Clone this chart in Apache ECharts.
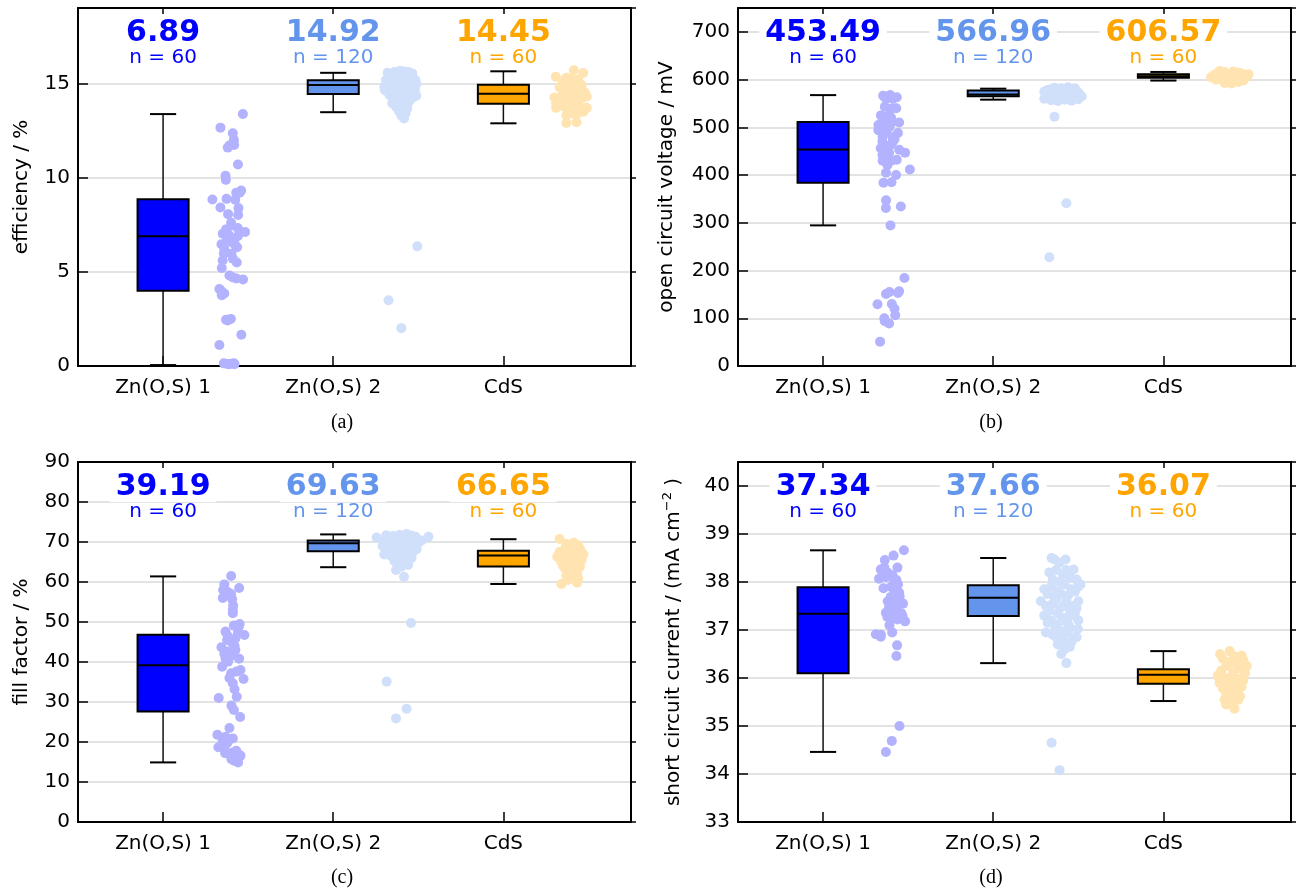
<!DOCTYPE html>
<html lang="en">
<head>
<meta charset="UTF-8">
<script src="https://cdn.jsdelivr.net/npm/echarts@6/dist/echarts.min.js"></script>
<style>
  body { margin: 0; background: #fff; }
</style>
</head>
<body>
<div id="main" style="width:1303px;height:889px;"></div>
<script type="text/javascript">
// categories and colours
const categories = ['Zn(O,S) 1', 'Zn(O,S) 2', 'CdS'];
const nCounts = [60, 120, 60];
const boxColors = ['#0000ff', '#6495ed', '#ffa500'];
const dotColors = ['#b2b2ff', '#d0dffa', '#ffe4b2'];

// box stats: [low whisker, q1, median, q3, high whisker]
const effBox = [[0.05, 3.99, 6.89, 8.85, 13.37], [13.47, 14.44, 14.92, 15.17, 15.56], [12.88, 13.92, 14.45, 14.93, 15.64]];
const vocBox = [[294.6, 384, 453.5, 511, 567.5], [558, 565, 569, 577, 581], [598, 604, 607, 611, 616]];
const ffBox = [[14.9, 27.6, 39.19, 46.8, 61.4], [63.7, 67.7, 69.7, 70.4, 71.9], [59.5, 63.9, 66.65, 67.8, 70.7]];
const jscBox = [[34.46, 36.1, 37.34, 37.89, 38.66], [36.31, 37.29, 37.67, 37.93, 38.5], [35.52, 35.88, 36.07, 36.18, 36.56]];

// numbers printed above each box
const effLabels = ['6.89', '14.92', '14.45'];
const vocLabels = ['453.49', '566.96', '606.57'];
const ffLabels = ['39.19', '69.63', '66.65'];
const jscLabels = ['37.34', '37.66', '36.07'];

// single cells, [jitter offset from category, value]
const effZn1 = [[0.469,13.37],[0.337,12.65],[0.41,12.35],[0.416,12.0],[0.418,11.73],[0.38,11.59],[0.44,10.69],[0.367,10.1],[0.369,9.88],[0.459,9.31],[0.43,9.2],[0.29,8.84],[0.373,8.87],[0.424,8.82],[0.337,8.41],[0.443,8.38],[0.382,8.06],[0.441,8.02],[0.4,7.46],[0.439,7.32],[0.482,7.11],[0.351,7.02],[0.386,6.97],[0.376,6.7],[0.343,6.46],[0.435,6.3],[0.422,6.44],[0.357,5.96],[0.402,5.96],[0.433,5.49],[0.345,5.2],[0.39,4.8],[0.408,4.71],[0.47,4.59],[0.331,4.09],[0.345,3.76],[0.398,2.5],[0.38,2.42],[0.46,1.66],[0.331,1.11],[0.357,0.14],[0.416,0.14],[0.386,0.09],
  [0.40,7.6],[0.37,7.25],[0.42,6.75],[0.36,6.2],[0.39,6.6],[0.41,5.7],[0.35,5.6],[0.44,6.9],[0.38,0.1],[0.40,0.12],[0.37,2.45],[0.43,4.65],[0.34,4.0],[0.36,3.85],[0.45,9.2],[0.39,11.7],[0.42,0.1]];
const effZn2 = [[0.32,15.57],[0.36,15.6],[0.39,15.66],[0.41,15.64],[0.44,15.62],[0.465,15.52],[0.43,15.5],[0.35,15.45],[0.38,15.42],[0.42,15.4],[0.45,15.45],
  [0.31,15.17],[0.33,15.3],[0.37,15.25],[0.40,15.3],[0.43,15.2],[0.46,15.3],[0.484,15.17],[0.35,15.1],[0.39,15.05],[0.42,15.1],[0.45,15.0],[0.488,14.96],[0.33,15.0],[0.37,15.15],[0.41,15.0],
  [0.30,14.8],[0.304,14.64],[0.34,14.9],[0.36,14.7],[0.38,14.85],[0.40,14.6],[0.42,14.8],[0.44,14.7],[0.46,14.85],[0.48,14.65],[0.35,14.55],[0.39,14.75],[0.43,14.55],[0.47,14.5],[0.32,14.75],[0.41,14.9],
  [0.488,14.34],[0.33,14.4],[0.36,14.3],[0.38,14.45],[0.40,14.2],[0.42,14.35],[0.445,14.02],[0.46,14.4],[0.35,14.15],[0.43,14.1],[0.39,14.05],[0.37,14.0],[0.47,14.25],
  [0.347,13.93],[0.435,13.67],[0.386,13.53],[0.40,13.8],[0.42,13.9],[0.37,13.75],[0.41,13.6],
  [0.416,13.14],[0.40,13.3],[0.425,13.4],
  [0.494,6.35],[0.325,3.49],[0.40,2.01]];
const effCdS = [[0.414,15.7],[0.469,15.55],[0.308,15.35],[0.37,15.3],[0.40,15.25],[0.44,15.2],[0.35,15.05],[0.39,15.0],[0.43,14.95],[0.46,14.9],[0.33,14.8],[0.37,14.75],[0.41,14.7],[0.45,14.6],[0.48,14.5],[0.35,14.5],[0.39,14.45],[0.43,14.4],[0.30,14.25],[0.34,14.3],[0.38,14.2],[0.42,14.15],[0.46,14.2],[0.49,14.3],[0.31,13.95],[0.36,14.0],[0.40,13.95],[0.44,13.9],[0.31,13.7],[0.36,13.75],[0.41,13.65],[0.45,13.7],[0.49,13.7],[0.40,13.4],[0.43,13.35],[0.37,13.3],[0.43,12.94],[0.37,12.9],[0.47,13.5],[0.39,14.6],[0.42,14.85],[0.36,15.15]];

const vocZn1 = [[0.353,566],[0.394,567.5],[0.433,563],[0.363,543],[0.408,540],[0.388,526],[0.349,512],[0.447,510],[0.325,505],[0.398,508],[0.325,494],[0.369,491],[0.408,480],[0.349,470],[0.339,456],[0.398,463],[0.447,453],[0.482,447],[0.349,442],[0.388,446],[0.433,432],[0.378,421],[0.51,411.6],[0.429,400],[0.355,384],[0.402,385],[0.37,347],[0.369,331],[0.457,334],[0.396,294.6],[0.478,184.5],[0.37,151],[0.447,156.7],[0.44,153],[0.32,129.5],[0.404,130],[0.424,106.5],[0.363,94],[0.388,89],[0.335,51],
  [0.37,560],[0.40,520],[0.36,498],[0.42,475],[0.38,458],[0.35,430],[0.41,470],[0.39,500],[0.34,525],[0.43,540],[0.36,565],[0.38,445],[0.40,430],[0.37,405],[0.44,488],[0.39,155],[0.42,120],[0.36,100],[0.41,560],[0.35,480]];
const vocZn2 = [[0.30,575],[0.32,578],[0.34,580],[0.36,572],[0.38,576],[0.40,582],[0.42,574],[0.44,579],[0.46,571],[0.48,577],[0.50,573],[0.31,568],[0.33,565],[0.35,562],[0.37,568],[0.39,560],[0.41,566],[0.43,563],[0.45,567],[0.47,561],[0.49,565],[0.30,560],[0.34,557],[0.38,555],[0.42,558],[0.46,556],[0.50,559],[0.32,572],[0.36,583],[0.40,570],[0.44,584],[0.48,582],[0.35,570],[0.39,574],[0.43,570],[0.47,575],[0.33,574],[0.41,578],[0.45,576],[0.37,562],[0.52,565],
  [0.36,522],[0.43,341],[0.33,228]];
const vocCdS = [[0.28,605],[0.30,610],[0.32,614],[0.34,608],[0.36,616],[0.38,603],[0.40,612],[0.42,607],[0.44,615],[0.46,609],[0.48,604],[0.50,611],[0.31,600],[0.35,598],[0.39,596],[0.43,600],[0.47,598],[0.33,618],[0.37,611],[0.41,617],[0.45,603],[0.49,606],[0.36,593],[0.40,592],[0.44,595],[0.38,606],[0.42,601],[0.34,602],[0.46,613],[0.30,604]];

const ffZn1 = [[0.4,61.5],[0.36,59.4],[0.447,58.5],[0.353,58],[0.4,57],[0.351,56],[0.406,55.7],[0.412,54.1],[0.41,52.2],[0.416,49.1],[0.445,48.8],[0.367,47.6],[0.478,46.75],[0.425,45.9],[0.376,45.5],[0.406,44.8],[0.343,43.7],[0.425,43],[0.376,42.6],[0.367,40.9],[0.447,40.8],[0.382,40.1],[0.347,38.8],[0.455,38],[0.4,37.2],[0.431,37.6],[0.473,35.75],[0.41,34.7],[0.42,33.2],[0.327,31],[0.433,31.3],[0.402,29.1],[0.416,28],[0.453,26.25],[0.39,23.5],[0.319,21.8],[0.367,21.3],[0.41,20.9],[0.378,19.8],[0.325,18.7],[0.359,18.4],[0.365,17.2],[0.406,17.3],[0.455,16.6],[0.402,15.7],[0.441,14.9],[0.418,15.3],
  [0.38,46.5],[0.42,44],[0.36,42],[0.44,47.5],[0.40,41.5],[0.37,19.5],[0.40,16.5],[0.35,20.5],[0.43,17.8],[0.39,36],[0.41,53],[0.45,49.5],[0.38,57.5]];
const ffZn2 = [[0.255,71.1],[0.312,71.7],[0.43,72],[0.484,71.3],[0.56,71.3],[0.35,71.5],[0.39,71.8],[0.46,71.6],[0.33,70.8],[0.37,70.5],[0.41,70.9],[0.45,70.7],[0.49,70.5],[0.30,70.2],[0.34,69.8],[0.38,69.5],[0.42,69.9],[0.46,69.6],[0.50,69.8],[0.29,69.0],[0.33,68.6],[0.37,68.9],[0.41,68.4],[0.45,68.7],[0.49,68.2],[0.30,66.9],[0.35,67.5],[0.39,67.8],[0.43,67.2],[0.47,67.6],[0.34,66.5],[0.38,66.2],[0.42,66.8],[0.46,66.0],[0.36,65.2],[0.40,65.5],[0.44,64.8],[0.369,63.0],[0.44,64.25],[0.416,61.3],[0.40,63.8],[0.38,64.5],[0.48,70.0],[0.52,70.4],[0.31,69.3],
  [0.457,49.75],[0.314,35.1],[0.431,28.3],[0.369,25.9]];
const ffCdS = [[0.33,70.75],[0.414,69.8],[0.44,69.2],[0.37,69.5],[0.40,68.8],[0.457,67.6],[0.36,68.2],[0.42,67.9],[0.39,67.3],[0.316,66.3],[0.35,66.8],[0.44,66.5],[0.38,65.8],[0.41,66.0],[0.46,65.5],[0.34,65.0],[0.37,64.6],[0.43,64.8],[0.40,64.2],[0.45,63.8],[0.36,63.5],[0.39,62.8],[0.42,63.2],[0.433,62.2],[0.37,61.6],[0.41,61.2],[0.44,60.8],[0.341,59.5],[0.433,59.8],[0.38,60.5],[0.45,68.3],[0.33,67.5],[0.47,66.9],[0.35,64.1],[0.40,62.0]];

const jscZn1 = [[0.475,38.66],[0.363,38.46],[0.414,38.55],[0.339,38.26],[0.437,38.3],[0.329,38.07],[0.378,38.2],[0.408,38.14],[0.431,38.04],[0.355,37.87],[0.412,37.87],[0.447,37.78],[0.398,37.69],[0.425,37.62],[0.451,37.54],[0.388,37.48],[0.369,37.36],[0.418,37.33],[0.467,37.29],[0.378,37.27],[0.482,37.18],[0.437,37.22],[0.31,36.91],[0.339,36.86],[0.406,36.95],[0.435,36.68],[0.431,36.46],[0.449,35.0],[0.404,34.69],[0.369,34.46],
  [0.40,37.9],[0.37,38.1],[0.43,37.4],[0.45,37.7],[0.39,37.1],[0.42,38.0],[0.36,38.3],[0.47,37.55],[0.38,37.6],[0.41,37.25],[0.44,37.95],[0.35,38.2],[0.40,37.45],[0.46,37.35],[0.34,36.9]];
const jscZn2 = [[0.343,38.5],[0.36,38.47],[0.425,38.47],[0.472,38.26],[0.39,38.4],
  [0.33,38.2],[0.37,38.25],[0.41,38.15],[0.45,38.1],[0.35,38.05],[0.39,38.0],[0.43,38.25],[0.49,38.05],
  [0.30,37.85],[0.34,37.9],[0.38,37.8],[0.42,37.95],[0.46,37.85],[0.50,37.9],[0.32,37.75],[0.36,37.7],[0.40,37.75],[0.44,37.72],[0.48,37.8],[0.513,37.95],
  [0.28,37.6],[0.31,37.5],[0.35,37.55],[0.39,37.45],[0.43,37.6],[0.47,37.5],[0.50,37.6],[0.33,37.4],[0.37,37.65],[0.41,37.5],[0.45,37.42],[0.49,37.45],
  [0.30,37.3],[0.34,37.2],[0.38,37.35],[0.42,37.25],[0.46,37.3],[0.50,37.2],[0.32,37.15],[0.36,37.1],[0.40,37.2],[0.44,37.12],[0.48,37.35],[0.497,37.02],
  [0.31,36.95],[0.35,36.9],[0.39,37.0],[0.43,36.95],[0.47,36.85],[0.37,36.85],[0.41,36.8],[0.45,37.05],[0.49,36.85],
  [0.38,36.7],[0.42,36.6],[0.46,36.75],[0.40,36.5],[0.45,36.65],
  [0.43,36.31],[0.343,34.65],[0.39,34.08]];
const jscCdS = [[0.333,36.5],[0.39,36.56],[0.46,36.47],[0.47,36.37],[0.35,36.4],[0.40,36.35],[0.43,36.3],[0.37,36.25],[0.45,36.2],[0.34,36.15],[0.41,36.12],[0.48,36.1],[0.32,36.05],[0.36,36.0],[0.40,36.02],[0.44,35.98],[0.47,35.95],[0.33,35.9],[0.38,35.88],[0.42,35.85],[0.46,35.82],[0.35,35.78],[0.39,35.72],[0.43,35.7],[0.37,35.65],[0.41,35.6],[0.45,35.62],[0.36,35.55],[0.40,35.5],[0.44,35.55],[0.369,35.45],[0.418,35.36],[0.42,36.45],[0.38,36.3],[0.49,36.25]];

const FONT = '"DejaVu Sans", sans-serif';

const panels = [
  { box: { left: 78, top: 8, width: 553, height: 358 }, yMin: 0, yMax: 19, step: 5, name: 'efficiency / %', gap: 46,
    caption: '(a)', cx: 342, cy: 423, labels: effLabels, boxes: effBox, pts: [effZn1, effZn2, effCdS] },
  { box: { left: 738, top: 8, width: 553, height: 358 }, yMin: 0, yMax: 750, step: 100, name: 'open circuit voltage / mV', gap: 61,
    caption: '(b)', cx: 991, cy: 423, labels: vocLabels, boxes: vocBox, pts: [vocZn1, vocZn2, vocCdS] },
  { box: { left: 78, top: 462, width: 553, height: 360 }, yMin: 0, yMax: 90, step: 10, name: 'fill factor / %', gap: 46,
    caption: '(c)', cx: 342, cy: 878, labels: ffLabels, boxes: ffBox, pts: [ffZn1, ffZn2, ffCdS] },
  { box: { left: 738, top: 462, width: 553, height: 360 }, yMin: 33, yMax: 40.5, step: 1, name: 'short circuit current / (mA cm{sup|\u22122} )', gap: 52,
    caption: '(d)', cx: 991, cy: 878, labels: jscLabels, boxes: jscBox, pts: [jscZn1, jscZn2, jscCdS] }
];

const frame = { show: true, onZero: false, lineStyle: { color: '#000', width: 2 } };
const grid = [], xAxis = [], yAxis = [], series = [], graphic = [];

function renderBox(params, api) {
  const x = api.value(0);
  const k = params.dataIndex;
  const lo = api.coord([x, api.value(1)]);
  const q1 = api.coord([x, api.value(2)]);
  const md = api.coord([x, api.value(3)]);
  const q3 = api.coord([x, api.value(4)]);
  const hi = api.coord([x, api.value(5)]);
  const bl = api.coord([x - 0.15, api.value(3)])[0];
  const br = api.coord([x + 0.15, api.value(3)])[0];
  const cl = api.coord([x - 0.077, api.value(3)])[0];
  const cr = api.coord([x + 0.077, api.value(3)])[0];
  const wStyle = { stroke: '#111', lineWidth: 1.5 };
  return {
    type: 'group',
    children: [
      { type: 'line', shape: { x1: lo[0], y1: lo[1], x2: q1[0], y2: q1[1] }, style: wStyle },
      { type: 'line', shape: { x1: q3[0], y1: q3[1], x2: hi[0], y2: hi[1] }, style: wStyle },
      { type: 'line', shape: { x1: cl, y1: lo[1], x2: cr, y2: lo[1] }, style: { stroke: '#000', lineWidth: 2 } },
      { type: 'line', shape: { x1: cl, y1: hi[1], x2: cr, y2: hi[1] }, style: { stroke: '#000', lineWidth: 2 } },
      { type: 'rect', shape: { x: bl, y: q3[1], width: br - bl, height: q1[1] - q3[1] },
        style: { fill: boxColors[k], stroke: '#000', lineWidth: 2 } },
      { type: 'line', shape: { x1: bl, y1: md[1], x2: br, y2: md[1] }, style: { stroke: '#000', lineWidth: 2 } }
    ]
  };
}

panels.forEach((p, i) => {
  grid.push(p.box);
  // bottom + top x axes
  xAxis.push({
    type: 'value', gridIndex: i, min: 0.5, max: 3.75,
    axisLine: frame,
    axisTick: { show: true, customValues: [1, 2, 3], inside: true, length: 10, lineStyle: { color: '#000', width: 1.5 } },
    axisLabel: { customValues: [1, 2, 3], formatter: v => categories[Math.round(v) - 1], fontSize: 20, color: '#000', margin: 12, fontFamily: FONT },
    splitLine: { show: false }
  });
  xAxis.push({
    type: 'value', gridIndex: i, position: 'top', min: 0.5, max: 3.75,
    axisLine: frame,
    axisTick: { show: true, customValues: [1, 2, 3], inside: true, length: 6, lineStyle: { color: '#000', width: 1.5 } },
    axisLabel: { show: false }, splitLine: { show: false }
  });
  // left + right y axes
  yAxis.push({
    type: 'value', gridIndex: i, min: p.yMin, max: p.yMax, interval: p.step,
    axisLine: frame,
    axisTick: { show: true, inside: true, length: 10, lineStyle: { color: '#000', width: 1.5 } },
    axisLabel: { fontSize: 20, color: '#000', margin: 8, fontFamily: FONT,
      formatter: v => (Math.abs(v / p.step - Math.round(v / p.step)) < 1e-6 ? String(v) : '') },
    splitLine: { show: true, lineStyle: { color: '#dadada', width: 1.5 } },
    name: p.name, nameLocation: 'middle', nameRotate: 90, nameGap: p.gap,
    nameTextStyle: { fontSize: 20, color: '#000', fontFamily: FONT,
      rich: { sup: { fontSize: 13, color: '#000', fontFamily: FONT, padding: [0, 0, 12, 0] } } }
  });
  yAxis.push({
    type: 'value', gridIndex: i, position: 'right', min: p.yMin, max: p.yMax, interval: p.step,
    axisLine: frame,
    axisTick: { show: true, inside: false, length: 5, lineStyle: { color: '#000', width: 1.5 } },
    axisLabel: { show: false }, splitLine: { show: false }
  });

  // jittered points
  p.pts.forEach((pts, k) => {
    series.push({
      type: 'scatter', xAxisIndex: 2 * i, yAxisIndex: 2 * i, symbolSize: 10, silent: true, z: 2,
      itemStyle: { color: dotColors[k], opacity: 1 },
      data: pts.map(q => [k + 1 + q[0], q[1]])
    });
  });

  // boxes
  series.push({
    type: 'custom', xAxisIndex: 2 * i, yAxisIndex: 2 * i, z: 3, silent: true,
    data: p.boxes.map((b, k) => [k + 1].concat(b)),
    renderItem: renderBox
  });

  // value + n labels at top of the panel
  series.push({
    type: 'custom', xAxisIndex: 2 * i, yAxisIndex: 2 * i, z: 4, silent: true,
    data: [[1], [2], [3]],
    renderItem: (params, api) => {
      const k = params.dataIndex;
      const x = api.coord([api.value(0), p.yMin])[0];
      const top = params.coordSys.y;
      return {
        type: 'group',
        children: [
          { type: 'text', x: x, y: top + 25,
            style: { text: p.labels[k], fill: boxColors[k], font: 'bold 30px ' + FONT,
              align: 'center', verticalAlign: 'middle', textAlign: 'center', textVerticalAlign: 'middle',
              backgroundColor: '#fff', padding: [0, 6] } },
          { type: 'text', x: x, y: top + 50,
            style: { text: 'n = ' + nCounts[k], fill: boxColors[k], font: '20px ' + FONT,
              align: 'center', verticalAlign: 'middle', textAlign: 'center', textVerticalAlign: 'middle' } }
        ]
      };
    }
  });

  graphic.push({
    type: 'text', x: p.cx, y: p.cy,
    style: { text: p.caption, fill: '#000', font: '20px "Liberation Serif", serif',
      align: 'center', verticalAlign: 'middle', textAlign: 'center', textVerticalAlign: 'middle' }
  });
});

var myChart = echarts.init(document.getElementById('main'));
myChart.setOption({
  animation: false,
  backgroundColor: '#fff',
  grid: grid,
  xAxis: xAxis,
  yAxis: yAxis,
  series: series,
  graphic: graphic
});
</script>
</body>
</html>
